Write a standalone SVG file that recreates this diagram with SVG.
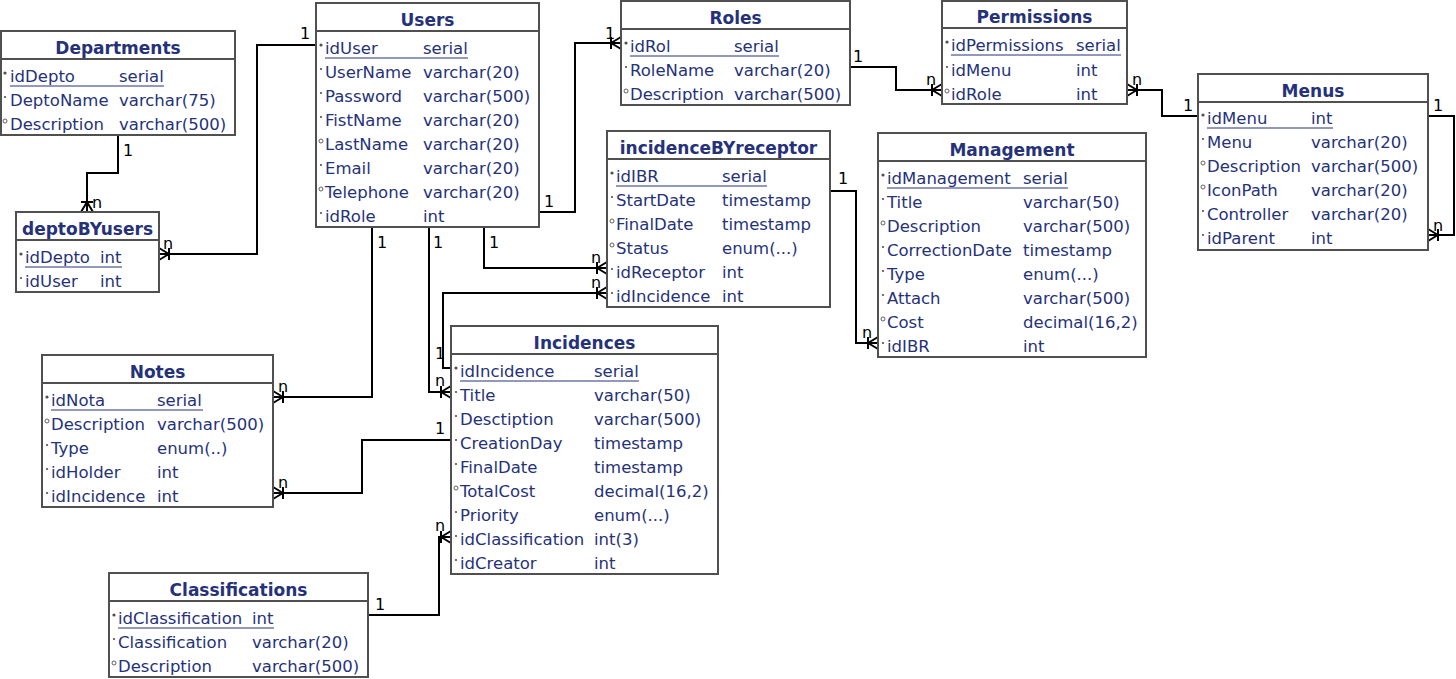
<svg xmlns="http://www.w3.org/2000/svg" width="1456" height="679" viewBox="0 0 1456 679">
<style>
.box{fill:#fff;stroke:#505050;stroke-width:2}
.sep{stroke:#505050;stroke-width:2}
.hd{font-family:"DejaVu Sans",sans-serif;font-weight:bold;font-size:17px;fill:#25327a;text-anchor:middle}
.f{font-family:"DejaVu Sans",sans-serif;font-size:16.5px;fill:#25327a}
.ul{stroke:#25327a;stroke-width:1}
.pk{fill:#505050}
.nn{fill:#505050}
.nl{fill:none;stroke:#505050;stroke-width:0.9}
.c{fill:none;stroke:#000;stroke-width:2;marker-end:url(#crow)}
.lb{font-family:"DejaVu Sans",sans-serif;font-size:16px;fill:#000}
</style>
<defs>
<marker id="crow" markerUnits="userSpaceOnUse" viewBox="-12 -8 13 16" refX="0" refY="0" markerWidth="13" markerHeight="16" orient="auto" overflow="visible">
<path d="M-10,0 L0,-6 M-10,0 L0,6 M-10,-6 L-10,6" fill="none" stroke="#000" stroke-width="2"/>
</marker>
</defs>
<rect width="1456" height="679" fill="#fff"/>

<g id="connectors">
<polyline class="c" points="118,135 118,173 87,173 87,212"/>
<polyline class="c" points="316,45 257,45 257,254 159,254"/>
<polyline class="c" points="539,212 575,212 575,43 621,43"/>
<polyline class="c" points="850,67 896,67 896,90 942,90"/>
<polyline class="c" points="1198,116 1162,116 1162,90 1127,90"/>
<polyline class="c" points="1428,116 1454,116 1454,235 1428,235"/>
<polyline class="c" points="484,227 484,268 607,268"/>
<polyline class="c" points="451,368 443,368 443,293 607,293"/>
<polyline class="c" points="429,227 429,392 451,392"/>
<polyline class="c" points="372,227 372,397 273,397"/>
<polyline class="c" points="451,440 362,440 362,493 273,493"/>
<polyline class="c" points="368,615 439,615 439,537 451,537"/>
<polyline class="c" points="830,191 856,191 856,343 878,343"/>
<text class="lb" x="123" y="156">1</text><text class="lb" x="92" y="208">n</text>
<text class="lb" x="300" y="39">1</text><text class="lb" x="163" y="249">n</text>
<text class="lb" x="544" y="207">1</text><text class="lb" x="605" y="39">1</text>
<text class="lb" x="853" y="62">1</text><text class="lb" x="926" y="85">n</text>
<text class="lb" x="1132" y="85">n</text><text class="lb" x="1183" y="111">1</text>
<text class="lb" x="1433" y="111">1</text><text class="lb" x="1433" y="231">n</text>
<text class="lb" x="489" y="248">1</text><text class="lb" x="591" y="263">n</text>
<text class="lb" x="435" y="359">1</text><text class="lb" x="591" y="288">n</text>
<text class="lb" x="433" y="248">1</text><text class="lb" x="435" y="386">n</text>
<text class="lb" x="377" y="248">1</text><text class="lb" x="278" y="392">n</text>
<text class="lb" x="435" y="434">1</text><text class="lb" x="278" y="488">n</text>
<text class="lb" x="375" y="610">1</text><text class="lb" x="435" y="531">n</text>
<text class="lb" x="838" y="184">1</text><text class="lb" x="862" y="338">n</text>
</g>

<g id="Departments">
<rect class="box" x="1" y="31" width="234" height="104"/>
<line class="sep" x1="1" y1="59" x2="235" y2="59"/>
<text class="hd" x="118" y="54">Departments</text>
<circle class="pk" cx="5" cy="73" r="1.6"/><text class="f" x="10" y="82">idDepto</text><text class="f" x="119" y="82">serial</text>
<line class="ul" x1="10" y1="86" x2="164" y2="86"/>
<circle class="nn" cx="5" cy="97" r="1.1"/><text class="f" x="10" y="106">DeptoName</text><text class="f" x="119" y="106">varchar(75)</text>
<circle class="nl" cx="5" cy="121" r="2"/><text class="f" x="10" y="130">Description</text><text class="f" x="119" y="130">varchar(500)</text>
</g>

<g id="deptoBYusers">
<rect class="box" x="16" y="212" width="143" height="80"/>
<line class="sep" x1="16" y1="240" x2="159" y2="240"/>
<text class="hd" x="87.5" y="235">deptoBYusers</text>
<circle class="pk" cx="21" cy="254" r="1.6"/><text class="f" x="25" y="263">idDepto</text><text class="f" x="100" y="263">int</text>
<line class="ul" x1="25" y1="267" x2="122" y2="267"/>
<circle class="nn" cx="21" cy="278" r="1.1"/><text class="f" x="25" y="287">idUser</text><text class="f" x="100" y="287">int</text>
</g>

<g id="Users">
<rect class="box" x="316" y="3" width="223" height="224"/>
<line class="sep" x1="316" y1="31" x2="539" y2="31"/>
<text class="hd" x="427.5" y="26">Users</text>
<circle class="pk" cx="321" cy="45" r="1.6"/><text class="f" x="325" y="54">idUser</text><text class="f" x="423" y="54">serial</text>
<line class="ul" x1="325" y1="58" x2="468" y2="58"/>
<circle class="nn" cx="321" cy="69" r="1.1"/><text class="f" x="325" y="78">UserName</text><text class="f" x="423" y="78">varchar(20)</text>
<circle class="nn" cx="321" cy="93" r="1.1"/><text class="f" x="325" y="102">Password</text><text class="f" x="423" y="102">varchar(500)</text>
<circle class="nn" cx="321" cy="117" r="1.1"/><text class="f" x="325" y="126">FistName</text><text class="f" x="423" y="126">varchar(20)</text>
<circle class="nl" cx="321" cy="141" r="2"/><text class="f" x="325" y="150">LastName</text><text class="f" x="423" y="150">varchar(20)</text>
<circle class="nn" cx="321" cy="165" r="1.1"/><text class="f" x="325" y="174">Email</text><text class="f" x="423" y="174">varchar(20)</text>
<circle class="nl" cx="321" cy="189" r="2"/><text class="f" x="325" y="198">Telephone</text><text class="f" x="423" y="198">varchar(20)</text>
<circle class="nn" cx="321" cy="213" r="1.1"/><text class="f" x="325" y="222">idRole</text><text class="f" x="423" y="222">int</text>
</g>

<g id="Roles">
<rect class="box" x="621" y="1" width="229" height="104"/>
<line class="sep" x1="621" y1="29" x2="850" y2="29"/>
<text class="hd" x="735.5" y="24">Roles</text>
<circle class="pk" cx="626" cy="43" r="1.6"/><text class="f" x="630" y="52">idRol</text><text class="f" x="734" y="52">serial</text>
<line class="ul" x1="630" y1="56" x2="779" y2="56"/>
<circle class="nn" cx="626" cy="67" r="1.1"/><text class="f" x="630" y="76">RoleName</text><text class="f" x="734" y="76">varchar(20)</text>
<circle class="nl" cx="626" cy="91" r="2"/><text class="f" x="630" y="100">Description</text><text class="f" x="734" y="100">varchar(500)</text>
</g>

<g id="Permissions">
<rect class="box" x="942" y="1" width="185" height="103"/>
<line class="sep" x1="942" y1="28" x2="1127" y2="28"/>
<text class="hd" x="1034.5" y="23">Permissions</text>
<circle class="pk" cx="947" cy="42" r="1.6"/><text class="f" x="951" y="51">idPermissions</text><text class="f" x="1076" y="51">serial</text>
<line class="ul" x1="951" y1="55" x2="1121" y2="55"/>
<circle class="nn" cx="947" cy="67" r="1.1"/><text class="f" x="951" y="76">idMenu</text><text class="f" x="1076" y="76">int</text>
<circle class="nl" cx="947" cy="91" r="2"/><text class="f" x="951" y="100">idRole</text><text class="f" x="1076" y="100">int</text>
</g>

<g id="Menus">
<rect class="box" x="1198" y="74" width="230" height="176"/>
<line class="sep" x1="1198" y1="102" x2="1428" y2="102"/>
<text class="hd" x="1313" y="97">Menus</text>
<circle class="pk" cx="1203" cy="115" r="1.6"/><text class="f" x="1207" y="124">idMenu</text><text class="f" x="1311" y="124">int</text>
<line class="ul" x1="1207" y1="128" x2="1333" y2="128"/>
<circle class="nn" cx="1203" cy="139" r="1.1"/><text class="f" x="1207" y="148">Menu</text><text class="f" x="1311" y="148">varchar(20)</text>
<circle class="nl" cx="1203" cy="163" r="2"/><text class="f" x="1207" y="172">Description</text><text class="f" x="1311" y="172">varchar(500)</text>
<circle class="nl" cx="1203" cy="187" r="2"/><text class="f" x="1207" y="196">IconPath</text><text class="f" x="1311" y="196">varchar(20)</text>
<circle class="nn" cx="1203" cy="211" r="1.1"/><text class="f" x="1207" y="220">Controller</text><text class="f" x="1311" y="220">varchar(20)</text>
<circle class="nn" cx="1203" cy="235" r="1.1"/><text class="f" x="1207" y="244">idParent</text><text class="f" x="1311" y="244">int</text>
</g>

<g id="incidenceBYreceptor">
<rect class="box" x="607" y="131" width="223" height="176"/>
<line class="sep" x1="607" y1="159" x2="830" y2="159"/>
<text class="hd" x="718.5" y="154">incidenceBYreceptor</text>
<circle class="pk" cx="612" cy="173" r="1.6"/><text class="f" x="616" y="182">idIBR</text><text class="f" x="722" y="182">serial</text>
<line class="ul" x1="616" y1="186" x2="767" y2="186"/>
<circle class="nn" cx="612" cy="197" r="1.1"/><text class="f" x="616" y="206">StartDate</text><text class="f" x="722" y="206">timestamp</text>
<circle class="nl" cx="612" cy="221" r="2"/><text class="f" x="616" y="230">FinalDate</text><text class="f" x="722" y="230">timestamp</text>
<circle class="nl" cx="612" cy="245" r="2"/><text class="f" x="616" y="254">Status</text><text class="f" x="722" y="254">enum(...)</text>
<circle class="nn" cx="612" cy="269" r="1.1"/><text class="f" x="616" y="278">idReceptor</text><text class="f" x="722" y="278">int</text>
<circle class="nn" cx="612" cy="293" r="1.1"/><text class="f" x="616" y="302">idIncidence</text><text class="f" x="722" y="302">int</text>
</g>

<g id="Management">
<rect class="box" x="878" y="133" width="268" height="224"/>
<line class="sep" x1="878" y1="161" x2="1146" y2="161"/>
<text class="hd" x="1012" y="156">Management</text>
<circle class="pk" cx="883" cy="175" r="1.6"/><text class="f" x="887" y="184">idManagement</text><text class="f" x="1023" y="184">serial</text>
<line class="ul" x1="887" y1="188" x2="1068" y2="188"/>
<circle class="nn" cx="883" cy="199" r="1.1"/><text class="f" x="887" y="208">Title</text><text class="f" x="1023" y="208">varchar(50)</text>
<circle class="nl" cx="883" cy="223" r="2"/><text class="f" x="887" y="232">Description</text><text class="f" x="1023" y="232">varchar(500)</text>
<circle class="nn" cx="883" cy="247" r="1.1"/><text class="f" x="887" y="256">CorrectionDate</text><text class="f" x="1023" y="256">timestamp</text>
<circle class="nn" cx="883" cy="271" r="1.1"/><text class="f" x="887" y="280">Type</text><text class="f" x="1023" y="280">enum(...)</text>
<circle class="nn" cx="883" cy="295" r="1.1"/><text class="f" x="887" y="304">Attach</text><text class="f" x="1023" y="304">varchar(500)</text>
<circle class="nl" cx="883" cy="319" r="2"/><text class="f" x="887" y="328">Cost</text><text class="f" x="1023" y="328">decimal(16,2)</text>
<circle class="nn" cx="883" cy="343" r="1.1"/><text class="f" x="887" y="352">idIBR</text><text class="f" x="1023" y="352">int</text>
</g>

<g id="Incidences">
<rect class="box" x="451" y="326" width="267" height="248"/>
<line class="sep" x1="451" y1="354" x2="718" y2="354"/>
<text class="hd" x="584.5" y="349">Incidences</text>
<circle class="pk" cx="456" cy="368" r="1.6"/><text class="f" x="460" y="377">idIncidence</text><text class="f" x="594" y="377">serial</text>
<line class="ul" x1="460" y1="381" x2="639" y2="381"/>
<circle class="nn" cx="456" cy="392" r="1.1"/><text class="f" x="460" y="401">Title</text><text class="f" x="594" y="401">varchar(50)</text>
<circle class="nn" cx="456" cy="416" r="1.1"/><text class="f" x="460" y="425">Desctiption</text><text class="f" x="594" y="425">varchar(500)</text>
<circle class="nn" cx="456" cy="440" r="1.1"/><text class="f" x="460" y="449">CreationDay</text><text class="f" x="594" y="449">timestamp</text>
<circle class="nn" cx="456" cy="464" r="1.1"/><text class="f" x="460" y="473">FinalDate</text><text class="f" x="594" y="473">timestamp</text>
<circle class="nl" cx="456" cy="488" r="2"/><text class="f" x="460" y="497">TotalCost</text><text class="f" x="594" y="497">decimal(16,2)</text>
<circle class="nn" cx="456" cy="512" r="1.1"/><text class="f" x="460" y="521">Priority</text><text class="f" x="594" y="521">enum(...)</text>
<circle class="nn" cx="456" cy="536" r="1.1"/><text class="f" x="460" y="545">idClassification</text><text class="f" x="594" y="545">int(3)</text>
<circle class="nn" cx="456" cy="560" r="1.1"/><text class="f" x="460" y="569">idCreator</text><text class="f" x="594" y="569">int</text>
</g>

<g id="Notes">
<rect class="box" x="42" y="355" width="231" height="152"/>
<line class="sep" x1="42" y1="383" x2="273" y2="383"/>
<text class="hd" x="157.5" y="378">Notes</text>
<circle class="pk" cx="47" cy="397" r="1.6"/><text class="f" x="51" y="406">idNota</text><text class="f" x="157" y="406">serial</text>
<line class="ul" x1="51" y1="410" x2="203" y2="410"/>
<circle class="nl" cx="47" cy="421" r="2"/><text class="f" x="51" y="430">Description</text><text class="f" x="157" y="430">varchar(500)</text>
<circle class="nn" cx="47" cy="445" r="1.1"/><text class="f" x="51" y="454">Type</text><text class="f" x="157" y="454">enum(..)</text>
<circle class="nn" cx="47" cy="469" r="1.1"/><text class="f" x="51" y="478">idHolder</text><text class="f" x="157" y="478">int</text>
<circle class="nn" cx="47" cy="493" r="1.1"/><text class="f" x="51" y="502">idIncidence</text><text class="f" x="157" y="502">int</text>
</g>

<g id="Classifications">
<rect class="box" x="109" y="573" width="259" height="104"/>
<line class="sep" x1="109" y1="601" x2="368" y2="601"/>
<text class="hd" x="238.5" y="596">Classifications</text>
<circle class="pk" cx="114" cy="615" r="1.6"/><text class="f" x="118" y="624">idClassification</text><text class="f" x="252" y="624">int</text>
<line class="ul" x1="118" y1="628" x2="274" y2="628"/>
<circle class="nn" cx="114" cy="639" r="1.1"/><text class="f" x="118" y="648">Classification</text><text class="f" x="252" y="648">varchar(20)</text>
<circle class="nl" cx="114" cy="663" r="2"/><text class="f" x="118" y="672">Description</text><text class="f" x="252" y="672">varchar(500)</text>
</g>
</svg>
